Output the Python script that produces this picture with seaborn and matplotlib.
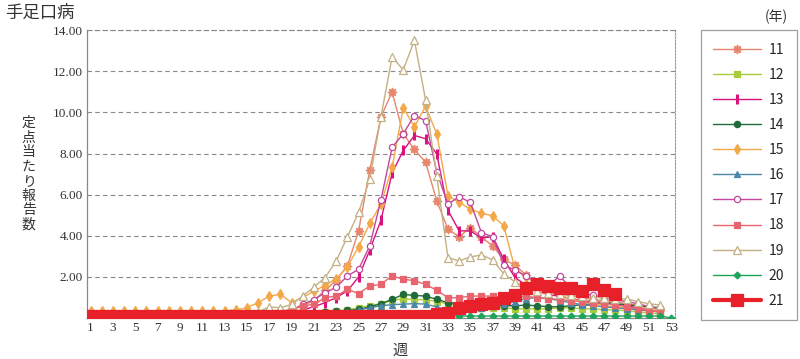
import numpy as np
import pandas as pd
import matplotlib
matplotlib.use("Agg")
import matplotlib.pyplot as plt
import seaborn as sns

# weekly reports per sentinel site
weeks = list(range(1, 54))

y11 = [0.15, 0.15, 0.15, 0.15, 0.15, 0.15, 0.15, 0.15, 0.15, 0.15, 0.15, 0.15, 0.15, 0.15, 0.18,
       0.2, 0.25, 0.3, 0.45, 0.6, 0.85, 1.35, 1.84, 2.54, 4.24, 7.2, 9.77, 11.0, 8.96, 8.2,
       7.58, 5.7, 4.33, 3.95, 4.4, 3.95, 3.5, 2.86, 2.57, 2.1, 1.6, 1.3, 1.2, 1.1, 1.0,
       0.9, 0.85, 0.8, 0.7, 0.6, 0.5, 0.4]
y12 = [0.1, 0.1, 0.1, 0.1, 0.1, 0.1, 0.1, 0.1, 0.1, 0.1, 0.1, 0.1, 0.1, 0.1, 0.1,
       0.1, 0.1, 0.1, 0.15, 0.2, 0.25, 0.3, 0.35, 0.4, 0.5, 0.6, 0.7, 0.85, 0.95, 0.9,
       0.9, 0.8, 0.7, 0.6, 0.55, 0.5, 0.5, 0.5, 0.45, 0.45, 0.45, 0.45, 0.5, 0.5, 0.45,
       0.45, 0.4, 0.4, 0.35, 0.3, 0.25, 0.2]
y13 = [0.12, 0.12, 0.12, 0.12, 0.12, 0.12, 0.12, 0.12, 0.12, 0.12, 0.12, 0.12, 0.12, 0.12, 0.12,
       0.15, 0.15, 0.2, 0.3, 0.4, 0.55, 0.75, 1.0, 1.32, 2.0, 3.3, 4.76, 7.04, 8.15, 8.88,
       8.72, 7.98, 5.25, 4.24, 4.24, 3.9, 3.95, 2.86, 1.97, 1.6, 1.3, 1.15, 1.05, 0.95, 0.85,
       0.8, 0.75, 0.7, 0.6, 0.5, 0.4, 0.3]
y14 = [0.12, 0.12, 0.12, 0.12, 0.12, 0.12, 0.12, 0.12, 0.12, 0.12, 0.12, 0.12, 0.12, 0.12, 0.12,
       0.12, 0.12, 0.15, 0.15, 0.2, 0.25, 0.3, 0.33, 0.37, 0.42, 0.54, 0.7, 0.91, 1.15, 1.1,
       1.07, 0.91, 0.75, 0.7, 0.7, 0.65, 0.6, 0.6, 0.6, 0.63, 0.6, 0.55, 0.55, 0.6, 0.65,
       0.7, 0.75, 0.7, 0.65, 0.6, 0.55, 0.5]
y15 = [0.35, 0.35, 0.35, 0.35, 0.35, 0.35, 0.35, 0.35, 0.35, 0.35, 0.35, 0.35, 0.35, 0.4, 0.5,
       0.75, 1.07, 1.16, 0.75, 1.0, 1.3, 1.6, 1.9, 2.5, 3.46, 4.6, 5.54, 7.33, 10.23, 9.3,
       10.3, 8.96, 5.95, 5.63, 5.3, 5.09, 4.98, 4.49, 2.4, 2.0, 1.6, 1.3, 1.1, 0.95, 0.8,
       0.7, 0.6, 0.55, 0.5, 0.45, 0.4, 0.35]
y16 = [0.1, 0.1, 0.1, 0.1, 0.1, 0.1, 0.1, 0.1, 0.1, 0.1, 0.1, 0.1, 0.1, 0.1, 0.1,
       0.1, 0.1, 0.1, 0.1, 0.1, 0.15, 0.2, 0.25, 0.3, 0.4, 0.5, 0.6, 0.65, 0.68, 0.7,
       0.68, 0.54, 0.4, 0.4, 0.45, 0.5, 0.6, 0.7, 0.8, 0.95, 1.0, 0.95, 0.85, 0.75, 0.65,
       0.6, 0.55, 0.5, 0.45, 0.4, 0.35, 0.3]
y17 = [0.1, 0.1, 0.1, 0.1, 0.1, 0.1, 0.1, 0.1, 0.1, 0.1, 0.1, 0.1, 0.1, 0.1, 0.1,
       0.15, 0.2, 0.25, 0.35, 0.67, 0.9, 1.23, 1.5, 2.05, 2.37, 3.51, 5.74, 8.3, 8.96, 9.85,
       9.6, 7.09, 5.54, 5.9, 5.63, 4.16, 3.95, 2.6, 2.32, 2.05, 1.7, 1.55, 2.05, 1.45, 1.2,
       1.1, 1.0, 0.9, 0.8, 0.7, 0.55, 0.45]
y18 = [0.15, 0.15, 0.15, 0.15, 0.15, 0.15, 0.15, 0.15, 0.15, 0.15, 0.15, 0.15, 0.15, 0.15, 0.15,
       0.2, 0.25, 0.3, 0.4, 0.59, 0.67, 0.99, 1.07, 1.4, 1.19, 1.56, 1.64, 2.05, 1.89, 1.82,
       1.64, 1.35, 0.99, 0.99, 1.07, 1.07, 1.07, 1.0, 1.0, 1.05, 1.0, 0.95, 0.9, 0.85, 0.8,
       0.75, 0.7, 0.65, 0.55, 0.45, 0.35, 0.3]
y19 = [0.2, 0.2, 0.2, 0.2, 0.2, 0.2, 0.2, 0.2, 0.2, 0.2, 0.2, 0.2, 0.2, 0.2, 0.2,
       0.3, 0.54, 0.5, 0.67, 1.07, 1.51, 1.97, 2.78, 3.95, 5.14, 6.76, 9.77, 12.7, 12.07, 13.5,
       10.6, 6.9, 2.94, 2.78, 2.97, 3.07, 2.83, 2.15, 1.76, 1.5, 1.3, 1.2, 1.15, 1.1, 1.05,
       1.0, 1.0, 0.95, 0.93, 0.8, 0.7, 0.63]
y20 = [0.1, 0.1, 0.1, 0.1, 0.1, 0.1, 0.1, 0.1, 0.1, 0.1, 0.1, 0.1, 0.1, 0.1, 0.1,
       0.1, 0.1, 0.1, 0.1, 0.1, 0.1, 0.1, 0.1, 0.1, 0.1, 0.1, 0.1, 0.1, 0.1, 0.1,
       0.1, 0.1, 0.1, 0.1, 0.1, 0.1, 0.1, 0.1, 0.1, 0.1, 0.1, 0.1, 0.1, 0.1, 0.1,
       0.1, 0.1, 0.1, 0.1, 0.1, 0.1, 0.1, 0.0]
y21 = [0.1, 0.1, 0.1, 0.1, 0.1, 0.1, 0.1, 0.1, 0.1, 0.1, 0.1, 0.1, 0.1, 0.1, 0.1,
       0.1, 0.1, 0.1, 0.1, 0.1, 0.1, 0.1, 0.1, 0.1, 0.1, 0.1, 0.1, 0.1, 0.1, 0.1,
       0.12, 0.2, 0.26, 0.5, 0.59, 0.67, 0.75, 0.96, 1.1, 1.48, 1.64, 1.56, 1.45, 1.48, 1.32,
       1.67, 1.35, 1.15]

years = ["11", "12", "13", "14", "15", "16", "17", "18", "19", "20", "21"]
series = [y11, y12, y13, y14, y15, y16, y17, y18, y19, y20, y21]

# (color, marker, markersize, facecolor, linewidth)
styles = {
    "11": ("#E8866C", (8, 1, 0), 6.5, None, 1.0),
    "12": ("#A8CC3C", "s", 4, None, 1.0),
    "13": ("#D8147C", "|", 6.5, None, 1.0),
    "14": ("#1F6B3A", "o", 4.5, None, 1.0),
    "15": ("#F3A849", "d", 5, None, 1.0),
    "16": ("#4B87A8", "^", 4.5, None, 1.0),
    "17": ("#C2479E", "o", 4.5, "white", 1.0),
    "18": ("#E8646E", "s", 4.5, None, 1.0),
    "19": ("#C4B085", "^", 5.5, "white", 1.0),
    "20": ("#1EA35A", "D", 3.5, None, 1.0),
    "21": ("#E8202A", "s", 8, None, 3.0),
}

sns.set_style("white")
plt.rcParams["font.family"] = ["Noto Sans CJK JP", "DejaVu Sans"]

fig = plt.figure(figsize=(8, 3.59), dpi=100)
ax = fig.add_axes([0.109, 0.114, 0.735, 0.802])

handles = []
for yr, vals in zip(years, series):
    color, mk, ms, fc, lw = styles[yr]
    df = pd.DataFrame({"week": weeks[:len(vals)], "value": vals})
    sns.lineplot(data=df, x="week", y="value", ax=ax, color=color, marker=mk,
                 markersize=ms, mfc=fc if fc else color, mec=color,
                 mew=2.2 if mk == "|" else 0.9, linewidth=lw,
                 zorder=5 if yr == "21" else 3)
    handles.append(ax.lines[-1])

ax.set_xlim(0.7, 53.35)
ax.set_ylim(0, 14)
ax.set_xticks(range(1, 54, 2))
ax.set_xticklabels([str(w) for w in range(1, 54, 2)],
                   family="Liberation Serif", fontsize=9.5, color="#333333")
ax.set_yticks(np.arange(0, 15, 2))
ax.set_yticklabels([""] + ["%.2f" % v for v in np.arange(2, 15, 2)],
                   family="Liberation Serif", fontsize=9.5, color="#333333")
ax.tick_params(length=0, pad=3)
ax.yaxis.grid(True, linestyle=(0, (4, 3)), color="#888888", linewidth=0.8)
ax.set_xlabel("")
ax.set_ylabel("")

for side in ["left", "bottom"]:
    ax.spines[side].set_color("#888888")
    ax.spines[side].set_linewidth(0.9)
ax.spines["top"].set_color("#888888")
ax.spines["top"].set_linestyle((0, (4, 3)))
ax.spines["top"].set_linewidth(0.8)
ax.spines["right"].set_color("#999999")
ax.spines["right"].set_linestyle((0, (1.5, 1.5)))
ax.spines["right"].set_linewidth(0.8)

leg = fig.legend(handles, years, loc="upper left", bbox_to_anchor=(0.876, 0.916),
                 frameon=True, fancybox=False, edgecolor="#888888",
                 handlelength=3.4, labelspacing=0.8, borderpad=0.9,
                 handletextpad=0.6, fontsize=10, borderaxespad=0)
leg.get_frame().set_linewidth(0.9)

fig.text(0.006, 0.965, "手足口病", fontsize=12.5, va="center", ha="left", color="#333333")
fig.text(0.985, 0.953, "(年)", fontsize=10, va="center", ha="right", color="#333333")
fig.text(0.036, 0.515, "\n".join("定点当たり報告数"), fontsize=10, va="center",
         ha="center", linespacing=1.05, color="#333333")
fig.text(0.5, 0.025, "週", fontsize=11, va="center", ha="center", color="#333333")

fig.savefig("out.png", dpi=100)
